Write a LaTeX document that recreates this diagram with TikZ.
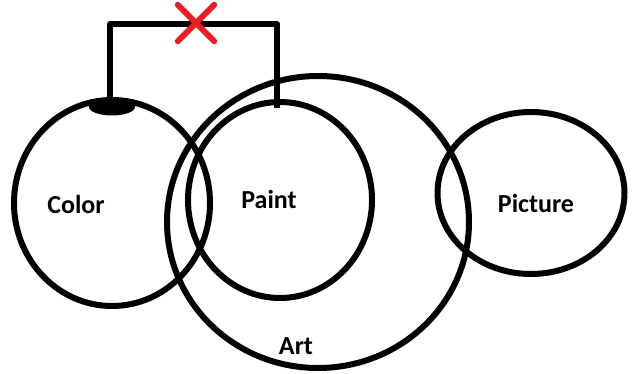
\documentclass[tikz,border=0pt]{standalone}
\usepackage{fontspec}
\setmainfont{Carlito}
\usetikzlibrary{shapes.geometric}
\definecolor{xred}{HTML}{ED1C24}
\begin{document}
\begin{tikzpicture}[x=1pt,y=-1pt,
  set/.style={draw=black,line width=6pt,ellipse,inner sep=0pt},
  lbl/.style={font=\fontsize{26}{30}\selectfont\bfseries,inner sep=0pt},
  link/.style={draw=black,line width=6pt}]
\useasboundingbox (0,0) rectangle (633,374);
% sets
\node[set,minimum width=196pt,minimum height=206pt] (color) at (112,203) {};
\node[set,minimum width=184pt,minimum height=196pt] (paint) at (280,200) {};
\node[set,minimum width=302pt,minimum height=292pt] (art) at (318,222) {};
\node[set,minimum width=187pt,minimum height=162pt] (picture) at (531,193) {};
% labels
\node[lbl] (tcolor) at (76,204) {Color};
\node[lbl] (tpaint) at (269,199) {Paint};
\node[lbl] (tpicture) at (536,203) {Picture};
\node[lbl] (tart) at (296,346) {Art};
% blob on top of Color
\node[fill=black,ellipse,minimum width=46pt,minimum height=17pt,inner sep=0pt] (blob) at (112,107) {};
% connector
\coordinate (cA) at (110,104);
\coordinate (cB) at (277,108);
\coordinate (ctop) at (193,24);
\draw[link,line join=round] (cA) |- (ctop) -| (cB);
% red cross
\node[inner sep=0pt,minimum size=36pt] (cross) at (196,23) {};
\draw[xred,line width=6pt,line cap=round] (cross.north west) -- (cross.south east);
\draw[xred,line width=6pt,line cap=round] (cross.north east) -- (cross.south west);
\end{tikzpicture}
\end{document}
